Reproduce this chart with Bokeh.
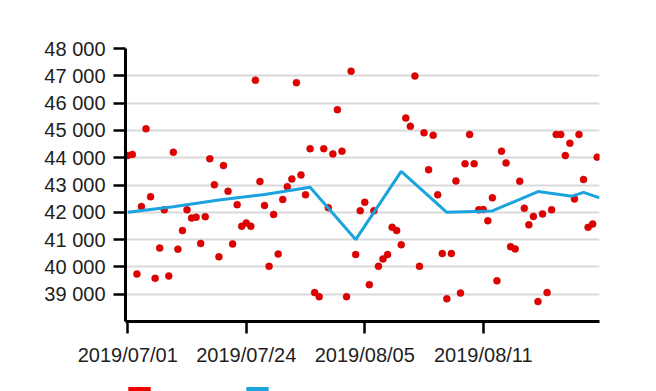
from bokeh.plotting import figure
from bokeh.models import (FixedTicker, Range1d, Legend, LegendItem,
                          ColumnDataSource)
from bokeh.layouts import column
from bokeh.core.properties import value
from bokeh.embed import file_html
from bokeh.resources import INLINE

# ---- data ----
prices = [44080, 44120, 39740, 42210, 45060, 42570, 39580, 40690, 42090, 39670,
          44200, 40650, 41330, 42090, 41790, 41820, 40860, 41840, 43960, 43010,
          40370, 43710, 42770, 40840, 42280, 41490, 41610, 41490, 46840, 43130,
          42250, 40020, 41920, 40470, 42470, 42940, 43220, 46750, 43370, 42640,
          44330, 39060, 38910, 44330, 42170, 44140, 45760, 44240, 38910, 47170,
          40450, 42060, 42370, 39350, 42060, 40020, 40290, 40450, 41450, 41330,
          40810, 45450, 45150, 46990, 40020, 44910, 43560, 44820, 42640, 40490,
          38830, 40490, 43150, 39040, 43780, 44850, 43780, 42090, 42100, 41690,
          42530, 39490, 44240, 43810, 40740, 40660, 43140, 42150, 41540, 41850,
          38730, 41940, 39060, 42090, 44850, 44850, 44080, 44530, 42490, 44850,
          43200, 41450, 41570, 44020]
record_index = list(range(len(prices)))

trend_index = [0, 10, 20, 30, 40, 50, 60, 70, 80, 90, 97.5, 100, 103.5]
trend_values = [42000, 42200, 42450, 42650, 42920, 41000, 43500, 42000, 42050,
                42760, 42590, 42730, 42530]

x_tick_positions = [0, 26, 52, 78]
x_tick_labels = ["2019/07/01", "2019/07/24", "2019/08/05", "2019/08/11"]
y_ticks = [39000, 40000, 41000, 42000, 43000, 44000, 45000, 46000, 47000, 48000]
y_tick_labels = ["39 000", "40 000", "41 000", "42 000", "43 000", "44 000",
                 "45 000", "46 000", "47 000", "48 000"]

FONT = "Liberation Sans"
NAN = float("nan")
RED = "#e00000"
BLUE = "#1aa3dc"

p = figure(width=656, height=386, output_backend="svg", toolbar_location=None,
           x_range=Range1d(-0.5, 103.5), y_range=Range1d(38000, 48000),
           min_border_left=125, min_border_right=57, min_border_top=48,
           min_border_bottom=65)
p.outline_line_color = None
p.background_fill_color = "white"
p.border_fill_color = "white"

# grid
p.xgrid.visible = False
p.ygrid.grid_line_color = "#d9d9d9"
p.ygrid.grid_line_width = 2
p.ygrid.ticker = FixedTicker(ticks=y_ticks)

# axes
for ax in (p.xaxis[0], p.yaxis[0]):
    ax.axis_line_color = "black"
    ax.axis_line_width = 3
    ax.major_tick_line_color = "black"
    ax.major_tick_line_width = 2.5
    ax.major_tick_out = 12
    ax.major_tick_in = 0
    ax.minor_tick_line_color = None
    ax.major_label_text_font = FONT
    ax.major_label_text_font_size = "20px"
    ax.major_label_text_color = "#1e1e1e"
    ax.major_label_standoff = 8

p.yaxis.ticker = FixedTicker(ticks=y_ticks)
p.yaxis.major_label_overrides = dict(zip(y_ticks, y_tick_labels))
p.xaxis.ticker = FixedTicker(ticks=x_tick_positions)
p.xaxis.major_label_overrides = dict(zip(x_tick_positions, x_tick_labels))
p.xaxis.major_label_standoff = 10

# marks
src = ColumnDataSource(dict(x=record_index, y=prices))
p.scatter("x", "y", source=src, size=7, fill_color=RED,
          line_color="#c40000", line_width=0.5)
p.line(trend_index, trend_values, line_color=BLUE, line_width=3)

# legend strip below (only the tops of the swatches are visible)
q = figure(width=656, height=5, output_backend="svg", toolbar_location=None,
           x_axis_location=None, y_axis_location=None,
           min_border_left=125, min_border_right=0, min_border_top=0,
           min_border_bottom=0)
q.outline_line_color = None
q.grid.visible = False
r_red = q.quad(top=[NAN], bottom=[NAN], left=[NAN], right=[NAN],
               fill_color="#ee0000", line_color=None)
r_blue = q.quad(top=[NAN], bottom=[NAN], left=[NAN], right=[NAN],
                fill_color=BLUE, line_color=None)
legend = Legend(items=[LegendItem(label=value(" "), renderers=[r_red]),
                       LegendItem(label=value(" "), renderers=[r_blue])],
                orientation="horizontal", location="top_left",
                glyph_width=28, glyph_height=5, label_width=80,
                label_height=5, label_standoff=5, spacing=5, padding=0,
                margin=0, border_line_color=None, background_fill_alpha=0,
                label_text_font_size="1px")
q.add_layout(legend, "center")

layout = column(p, q, spacing=0)
open("out.html", "w").write(file_html(layout, INLINE))
